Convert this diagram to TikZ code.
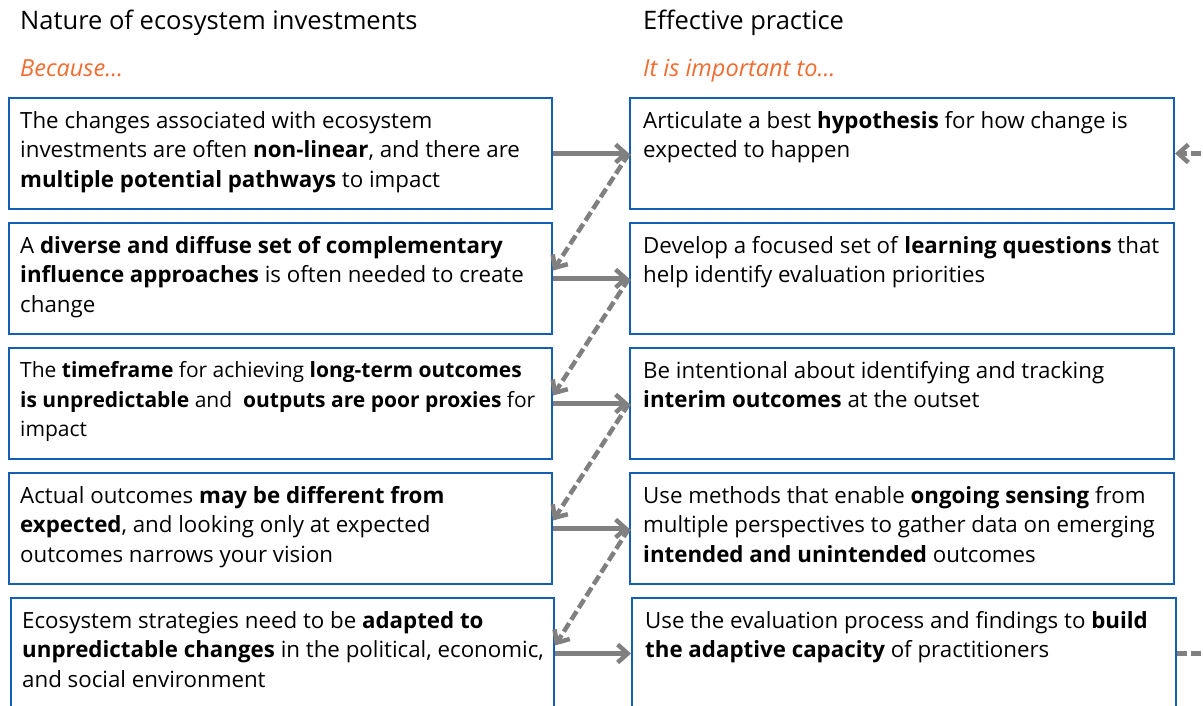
\documentclass[tikz,border=0pt]{standalone}
\usepackage{fontspec}
\setmainfont{Open Sans}
\usetikzlibrary{arrows.meta}
\definecolor{boxblue}{RGB}{20,95,180}
\definecolor{headorange}{RGB}{242,107,47}
\definecolor{arrowgray}{RGB}{128,128,128}

\begin{document}
\begin{tikzpicture}[x=1pt, y=-1pt,
    box/.style={draw=boxblue, line width=2pt, minimum width=543pt, minimum height=111pt, anchor=north west, inner sep=0pt},
    txt/.style={anchor=north west, align=left, inner sep=0pt, font=\fontsize{22.3}{29.5}\selectfont},
    head/.style={anchor=base west, inner sep=0pt, font=\fontsize{25.5}{30}\selectfont},
    sub/.style={anchor=base west, inner sep=0pt, text=headorange, font=\fontsize{23.5}{28}\selectfont\itshape},
    link/.style={draw=arrowgray, line width=4.5pt, -{Straight Barb[length=10pt,width=18pt]}},
    back/.style={link, dash pattern=on 10pt off 4pt}]
    \useasboundingbox (0,0) rectangle (1203,705);
    \clip (0,0) rectangle (1203,705);

    % Column headings
    \node[head] (H1) at (20,29) {Nature of ecosystem investments};
    \node[sub] (S1) at (20,76) {Because…};
    \node[head] (H2) at (643,29) {Effective practice};
    \node[sub] (S2) at (643,76) {It is important to…};

    % Left column: nature of investments
    \foreach \i/\y in {1/97,2/222,3/347,4/472} {
        \node[box] (L\i) at (8,\y) {};
    }
    \node[box] (L5) at (10,597) {};

    % Right column: effective practice
    \foreach \i/\y in {1/97,2/222,3/347,4/472} {
        \node[box, minimum width=544pt] (R\i) at (629,\y) {};
    }
    \node[box, minimum width=544pt] (R5) at (631,597) {};

    % Texts of the left boxes
    \node[txt] (L1t) at ([xshift=12pt,yshift=-14pt]L1.north west) {The changes associated with ecosystem\\investments are often \textbf{non-linear}, and there are\\\textbf{multiple potential pathways} to impact};
    \node[txt] (L2t) at ([xshift=12pt,yshift=-14pt]L2.north west) {A \textbf{diverse and diffuse set of complementary}\\\textbf{influence approaches} is often needed to create\\change};
    \node[txt, font=\fontsize{21}{29.5}\selectfont] (L3t) at ([xshift=12pt,yshift=-14.5pt]L3.north west) {The \textbf{timeframe} for achieving \textbf{long-term outcomes}\\\textbf{is unpredictable} and \ \textbf{outputs are poor proxies} for\\impact};
    \node[txt] (L4t) at ([xshift=12pt,yshift=-14pt]L4.north west) {Actual outcomes \textbf{may be different from}\\\textbf{expected}, and looking only at expected\\outcomes narrows your vision};
    \node[txt] (L5t) at ([xshift=12pt,yshift=-14pt]L5.north west) {Ecosystem strategies need to be \textbf{adapted to}\\\textbf{unpredictable changes} in the political, economic,\\and social environment};

    % Texts of the right boxes
    \node[txt] (R1t) at ([xshift=14pt,yshift=-14pt]R1.north west) {Articulate a best \textbf{hypothesis} for how change is\\expected to happen};
    \node[txt] (R2t) at ([xshift=14pt,yshift=-14pt]R2.north west) {Develop a focused set of \textbf{learning questions} that\\help identify evaluation priorities};
    \node[txt] (R3t) at ([xshift=14pt,yshift=-14pt]R3.north west) {Be intentional about identifying and tracking\\\textbf{interim outcomes} at the outset};
    \node[txt] (R4t) at ([xshift=14pt,yshift=-14pt]R4.north west) {Use methods that enable \textbf{ongoing sensing} from\\multiple perspectives to gather data on emerging\\\textbf{intended and unintended} outcomes};
    \node[txt] (R5t) at ([xshift=14pt,yshift=-14pt]R5.north west) {Use the evaluation process and findings to \textbf{build}\\\textbf{the adaptive capacity} of practitioners};

    % Because ... it is important to
    \foreach \i in {1,...,5} {
        \draw[link] (L\i.east) -- (R\i.west);
    }
    % Feedback from each practice to the next cause
    \foreach \i/\j in {1/2,2/3,3/4,4/5} {
        \draw[back] (R\i.west) -- ([yshift=8pt]L\j.east);
    }
    % Loop back from the last practice to the first
    \coordinate (loop) at (1240,651);
    \draw[back] (R5.east) -- (R5.east -| loop) |- (R1.east);
\end{tikzpicture}
\end{document}
